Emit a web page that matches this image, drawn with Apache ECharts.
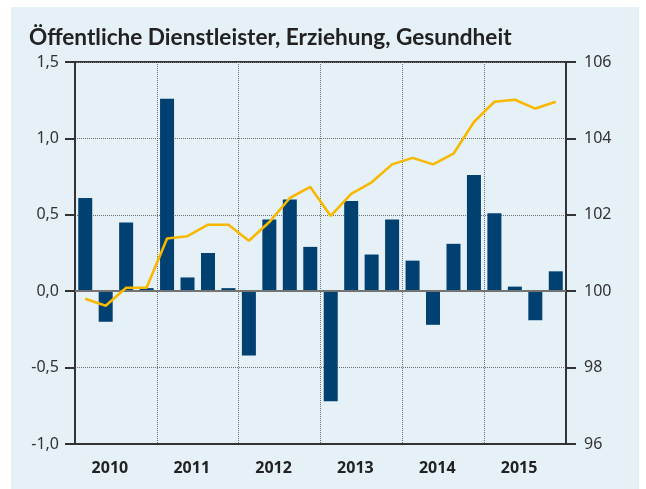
<!DOCTYPE html>
<html>
<head>
<meta charset="utf-8">
<script src="https://cdn.jsdelivr.net/npm/echarts@6/dist/echarts.min.js"></script>
<style>
  html, body { margin: 0; padding: 0; background: #ffffff; }
  #panel { position: absolute; left: 11px; top: 7px; width: 628px; height: 482px; background: #e5f0f7; }
  #chart { position: absolute; left: 0; top: 0; width: 646px; height: 489px; }
</style>
</head>
<body>
<div id="panel"></div>
<div id="chart"></div>
<script>
// Jahre (Achsenbeschriftung) und Quartale
var years = ['2010', '2011', '2012', '2013', '2014', '2015'];
var quarters = [];
years.forEach(function (y) {
    ['Q1', 'Q2', 'Q3', 'Q4'].forEach(function (q) { quarters.push(y + ' ' + q); });
});

// Veraenderung gegenueber Vorquartal in % (linke Achse)
var changeValues = [0.61, -0.20, 0.45, 0.02, 1.26, 0.09, 0.25, 0.02,
                    -0.42, 0.47, 0.60, 0.29, -0.72, 0.59, 0.24, 0.47,
                    0.20, -0.22, 0.31, 0.76, 0.51, 0.03, -0.19, 0.13];

// Index 2010 = 100 (rechte Achse)
var indexValues = [99.80, 99.62, 100.09, 100.09, 101.38, 101.44, 101.74, 101.74,
                   101.32, 101.81, 102.44, 102.73, 101.97, 102.55, 102.85, 103.32,
                   103.49, 103.32, 103.60, 104.43, 104.96, 105.01, 104.78, 104.96];

var leftTicks = { min: -1, max: 1.5, interval: 0.5 };
var rightTicks = { min: 96, max: 106, interval: 2 };

var chart = echarts.init(document.getElementById('chart'));

var option = {
    backgroundColor: 'transparent',
    animation: false,
    title: {
        text: 'Öffentliche Dienstleister, Erziehung, Gesundheit',
        left: 24,
        top: 21,
        textStyle: { fontFamily: 'Lato', fontWeight: 'bold', fontSize: 22.6, color: '#222222' }
    },
    grid: {
        left: 75, right: 80, top: 62, bottom: 45,
        show: true, borderColor: '#333333', borderWidth: 2, backgroundColor: 'transparent'
    },
    xAxis: [{
        type: 'category',
        data: years,
        position: 'bottom',
        axisLine: { onZero: false, lineStyle: { color: '#333333', width: 2 } },
        axisTick: { show: false },
        axisLabel: {
            margin: 16, fontFamily: 'Noto Sans', fontWeight: 'bold', fontSize: 16, color: '#222222',
            padding: [0, 12, 0, 0]
        },
        splitLine: { show: true, interval: 0, lineStyle: { color: '#6f6f6f', type: 'dotted', width: 1 } }
    }, {
        type: 'category',
        data: quarters,
        show: false
    }],
    yAxis: [{
        type: 'value',
        position: 'left',
        min: leftTicks.min, max: leftTicks.max, interval: leftTicks.interval,
        axisLine: { show: true, lineStyle: { color: '#333333', width: 2 } },
        axisTick: { show: true, length: 10, lineStyle: { color: '#333333', width: 2 } },
        axisLabel: {
            margin: 16, fontFamily: 'Noto Sans', fontSize: 16, color: '#333333',
            formatter: function (v) { return v.toFixed(1).replace('.', ','); }
        },
        splitLine: { show: true, lineStyle: { color: '#6f6f6f', type: 'dotted', width: 1 } }
    }, {
        type: 'value',
        position: 'right',
        min: rightTicks.min, max: rightTicks.max, interval: rightTicks.interval,
        axisLine: { show: true, lineStyle: { color: '#333333', width: 2 } },
        axisTick: { show: true, length: 10, lineStyle: { color: '#333333', width: 2 } },
        axisLabel: { margin: 18, fontFamily: 'Noto Sans', fontSize: 16, color: '#333333' },
        splitLine: { show: false }
    }],
    series: [{
        type: 'bar',
        xAxisIndex: 1,
        yAxisIndex: 0,
        data: changeValues,
        barWidth: 14,
        itemStyle: { color: '#004172' },
        markLine: {
            silent: true,
            symbol: 'none',
            label: { show: false },
            lineStyle: { color: '#737373', type: 'solid', width: 2 },
            data: [{ yAxis: 0 }]
        }
    }, {
        type: 'line',
        xAxisIndex: 1,
        yAxisIndex: 1,
        data: indexValues,
        symbol: 'none',
        lineStyle: { color: '#f8b800', width: 2.6 },
        z: 5
    }]
};

chart.setOption(option);
</script>
</body>
</html>
